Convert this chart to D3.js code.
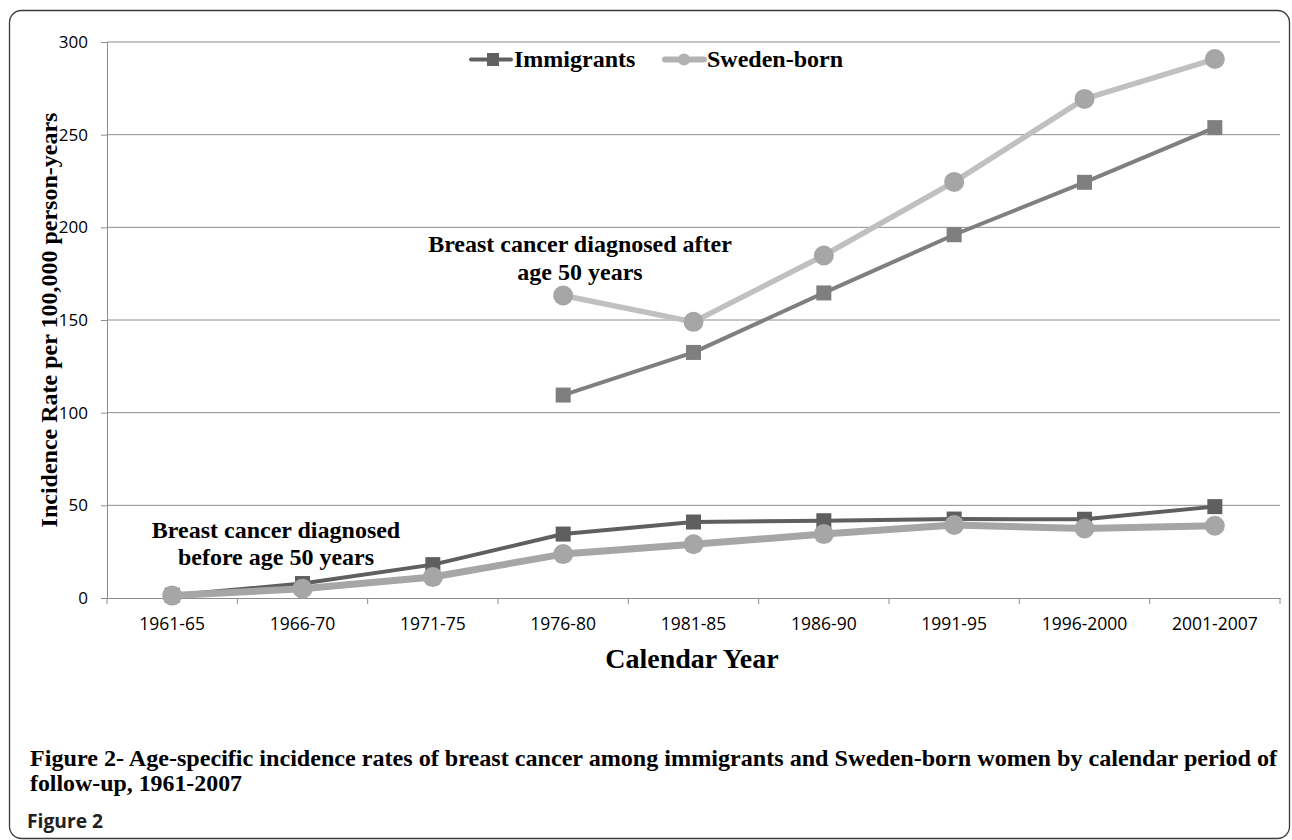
<!DOCTYPE html>
<html><head><meta charset="utf-8">
<script src="https://cdn.jsdelivr.net/npm/d3@7"></script>
<style>body{margin:0;background:#fff}svg{display:block}</style>
</head><body><svg id="c" width="1292" height="840"></svg>
<script>
const categories = ["1961-65","1966-70","1971-75","1976-80","1981-85","1986-90","1991-95","1996-2000","2001-2007"];
const yTicks = [0,50,100,150,200,250,300];
// before age 50
const immigrantsBefore = [1.5, 7.8, 18, 34.5, 41, 41.7, 42.6, 42.5, 49.3];
const swedenBefore     = [1.3, 5, 11.3, 23.7, 29, 34.5, 39.4, 37.5, 39];
// after age 50 (from 1976-80)
const afterCategories  = ["1976-80","1981-85","1986-90","1991-95","1996-2000","2001-2007"];
const immigrantsAfter  = [109.5, 132.5, 164.6, 196, 224.3, 253.8];
const swedenAfter      = [163.2, 149, 184.8, 224.5, 269.3, 290.8];

const svg = d3.select("#c");
const X0 = 107, X1 = 1280, Y0 = 598, Y1 = 42;
const x = d3.scaleBand().domain(categories).range([X0, X1]);
const y = d3.scaleLinear().domain([0, 300]).range([Y0, Y1]);
const cx = c => x(c) + x.bandwidth()/2;

// frame
svg.append("rect").attr("x",9.5).attr("y",10.5).attr("width",1280).attr("height",828).attr("rx",12)
  .attr("fill","none").attr("stroke","#3a3a3a").attr("stroke-width",1.3);

// grid
svg.append("g").selectAll("line").data(yTicks.filter(d=>d>0)).join("line")
  .attr("x1",X0).attr("x2",X1).attr("y1",d=>y(d)).attr("y2",d=>y(d))
  .attr("stroke","#8c8c8c").attr("stroke-width",1);

// y axis
const ya = svg.append("g").attr("transform",`translate(${X0},0)`)
  .call(d3.axisLeft(y).tickValues(yTicks).tickSize(6).tickPadding(13).tickFormat(d3.format("d")));
ya.select(".domain").attr("stroke","#8c8c8c");
ya.selectAll(".tick line").attr("stroke","#8c8c8c");
ya.selectAll("text").attr("font-family","'Open Sans', sans-serif").attr("font-size",17).attr("fill","#000");

// x axis
const xa = svg.append("g").attr("transform",`translate(0,${Y0})`)
  .call(d3.axisBottom(x).tickSize(0).tickPadding(0));
xa.select(".domain").attr("stroke","#8c8c8c").attr("stroke-width",1);
xa.selectAll("text").attr("dy",null).attr("y",32).attr("font-family","'Open Sans', sans-serif").attr("font-size",17.5).attr("fill","#000");
svg.append("g").selectAll("line").data(d3.range(categories.length+1)).join("line")
  .attr("x1",i=>X0+i*x.bandwidth()).attr("x2",i=>X0+i*x.bandwidth())
  .attr("y1",Y0).attr("y2",Y0+6).attr("stroke","#8c8c8c");

const line = d3.line();
function series(cats, vals, color, width, markerColor, shape){
  const pts = cats.map((c,i)=>[cx(c), y(vals[i])]);
  svg.append("path").attr("d",line(pts)).attr("fill","none").attr("stroke",color)
    .attr("stroke-width",width).attr("stroke-linejoin","round");
  const g = svg.append("g");
  if(shape==="square"){
    g.selectAll("rect").data(pts).join("rect").attr("x",p=>p[0]-7.5).attr("y",p=>p[1]-7.5)
      .attr("width",15).attr("height",15).attr("fill",markerColor);
  } else {
    g.selectAll("circle").data(pts).join("circle").attr("cx",p=>p[0]).attr("cy",p=>p[1])
      .attr("r",10).attr("fill",markerColor);
  }
}
series(afterCategories, swedenAfter, "#c0c0c0", 5.5, "#a6a6a6", "circle");
series(afterCategories, immigrantsAfter, "#7f7f7f", 4, "#7f7f7f", "square");
series(categories, immigrantsBefore, "#5f5f5f", 4, "#5f5f5f", "square");
series(categories, swedenBefore, "#a6a6a6", 7, "#a6a6a6", "circle");

const serif = "'Liberation Serif','Times New Roman',serif";
// legend
const lg = svg.append("g").attr("font-family",serif).attr("font-weight","bold").attr("font-size",24);
lg.append("line").attr("x1",471).attr("x2",511).attr("y1",59.5).attr("y2",59.5).attr("stroke","#606060").attr("stroke-width",4).attr("stroke-linecap","round");
lg.append("rect").attr("x",487).attr("y",53).attr("width",12).attr("height",13).attr("fill","#606060");
lg.append("text").attr("x",514).attr("y",67).text("Immigrants");
lg.append("line").attr("x1",665).attr("x2",704).attr("y1",59.5).attr("y2",59.5).attr("stroke","#b2b2b2").attr("stroke-width",6).attr("stroke-linecap","round");
lg.append("circle").attr("cx",684).attr("cy",59.5).attr("r",6).attr("fill","#b2b2b2");
lg.append("text").attr("x",707).attr("y",67).text("Sweden-born");

// annotations
const an = svg.append("g").attr("font-family",serif).attr("font-weight","bold").attr("font-size",24).attr("text-anchor","middle");
an.append("text").attr("x",580).attr("y",252).text("Breast cancer diagnosed after");
an.append("text").attr("x",580).attr("y",280).text("age 50 years");
an.append("text").attr("x",276).attr("y",538).text("Breast cancer diagnosed");
an.append("text").attr("x",276).attr("y",565).text("before age 50 years");

// axis titles
svg.append("text").attr("x",692).attr("y",668).attr("text-anchor","middle")
  .attr("font-family",serif).attr("font-weight","bold").attr("font-size",28).text("Calendar Year");
svg.append("text").attr("transform","translate(57,320) rotate(-90)").attr("text-anchor","middle")
  .attr("font-family",serif).attr("font-weight","bold").attr("font-size",24).text("Incidence Rate per 100,000 person-years");

// caption
const cap = svg.append("g").attr("font-family",serif).attr("font-weight","bold").attr("font-size",24);
cap.append("text").attr("x",30).attr("y",766).attr("textLength",1247).attr("lengthAdjust","spacingAndGlyphs")
  .text("Figure 2- Age-specific incidence rates of breast cancer among immigrants and Sweden-born women by calendar period of");
cap.append("text").attr("x",30).attr("y",791).attr("textLength",212).attr("lengthAdjust","spacingAndGlyphs").text("follow-up, 1961-2007");
svg.append("text").attr("x",27).attr("y",828).attr("font-family","'Open Sans',sans-serif").attr("font-weight","bold")
  .attr("font-size",20).attr("textLength",76).attr("lengthAdjust","spacingAndGlyphs").attr("fill","#222").text("Figure 2");
</script></body></html>
